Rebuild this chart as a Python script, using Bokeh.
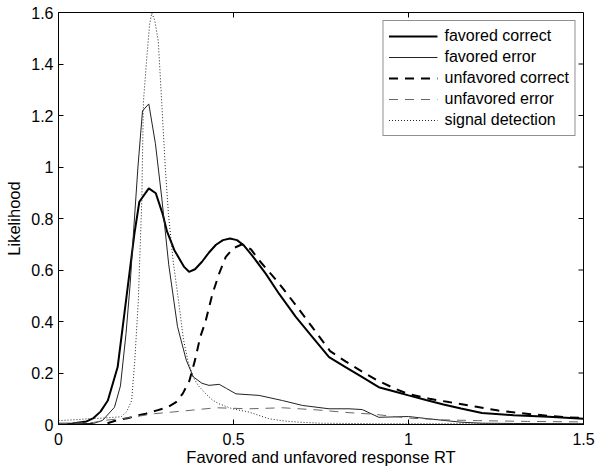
from bokeh.plotting import figure
from bokeh.models import Range1d, FixedTicker, Legend, LegendItem
from bokeh.embed import file_html
from bokeh.resources import INLINE

# ---- data ----
fc_x = [0, 0.04, 0.08, 0.10, 0.12, 0.141, 0.169, 0.193, 0.217, 0.231, 0.258, 0.278, 0.297, 0.31,
        0.331, 0.359, 0.373, 0.39, 0.41, 0.43, 0.45, 0.47, 0.49, 0.51, 0.53, 0.554, 0.592, 0.63,
        0.678, 0.725, 0.773, 0.82, 0.868, 0.915, 0.96, 1.0, 1.05, 1.1, 1.15, 1.21, 1.3, 1.4, 1.5]
fc_y = [0.003, 0.004, 0.012, 0.025, 0.05, 0.093, 0.223, 0.482, 0.742, 0.865, 0.917, 0.898, 0.82, 0.75,
        0.677, 0.612, 0.593, 0.603, 0.632, 0.668, 0.698, 0.716, 0.722, 0.716, 0.695, 0.655, 0.586, 0.508,
        0.418, 0.34, 0.262, 0.223, 0.184, 0.145, 0.128, 0.113, 0.095, 0.078, 0.062, 0.045, 0.036, 0.03,
        0.022]

fe_x = [0, 0.1, 0.126, 0.16, 0.177, 0.193, 0.205, 0.215, 0.227, 0.24, 0.258, 0.277, 0.295, 0.315,
        0.34, 0.365, 0.385, 0.41, 0.43, 0.459, 0.48, 0.507, 0.573, 0.64, 0.697, 0.773, 0.83, 0.868,
        0.915, 1.0, 1.058, 1.15, 1.21, 1.3, 1.5]
fe_y = [0.003, 0.004, 0.016, 0.067, 0.15, 0.354, 0.55, 0.76, 1.0, 1.218, 1.245, 1.09, 0.88, 0.62,
        0.38, 0.25, 0.185, 0.16, 0.152, 0.156, 0.14, 0.119, 0.113, 0.093, 0.074, 0.061, 0.061, 0.058,
        0.028, 0.031, 0.022, 0.009, 0.005, 0.004, 0.003]

uc_x = [0.14, 0.165, 0.2, 0.226, 0.25, 0.279, 0.31, 0.336, 0.355, 0.374, 0.39, 0.405, 0.42, 0.44,
        0.46, 0.478, 0.5, 0.525, 0.55, 0.573, 0.63, 0.68, 0.725, 0.776, 0.82, 0.868, 0.91, 0.96, 1.0,
        1.06, 1.115, 1.19, 1.257, 1.35, 1.447, 1.5]
uc_y = [0.005, 0.016, 0.025, 0.035, 0.042, 0.054, 0.066, 0.087, 0.12, 0.17, 0.25, 0.34, 0.40, 0.508,
        0.59, 0.651, 0.685, 0.70, 0.68, 0.638, 0.548, 0.46, 0.378, 0.285, 0.245, 0.205, 0.172, 0.14,
        0.118, 0.1, 0.087, 0.07, 0.054, 0.04, 0.028, 0.025]

ue_x = [0, 0.1, 0.131, 0.2, 0.274, 0.354, 0.45, 0.545, 0.64, 0.735, 0.83, 0.9, 1.0, 1.1, 1.2,
        1.34, 1.5]
ue_y = [0.003, 0.008, 0.016, 0.026, 0.042, 0.052, 0.065, 0.061, 0.065, 0.057, 0.046, 0.04, 0.025,
        0.018, 0.015, 0.012, 0.01]

sd_x = [0, 0.04, 0.083, 0.13, 0.179, 0.195, 0.209, 0.218, 0.228, 0.238, 0.2425, 0.252, 0.26, 0.2665,
        0.275, 0.285, 0.295, 0.305, 0.314, 0.328, 0.343, 0.357, 0.371, 0.385, 0.40, 0.421, 0.44,
        0.459, 0.497, 0.545, 0.602, 0.65, 0.687, 0.75, 0.9, 1.2, 1.5]
sd_y = [0.015, 0.018, 0.022, 0.025, 0.03, 0.05, 0.093, 0.25, 0.48, 0.87, 1.25, 1.42, 1.55, 1.598,
        1.57, 1.49, 1.25, 1.0, 0.82, 0.63, 0.48, 0.33, 0.24, 0.184, 0.15, 0.119, 0.095,
        0.08, 0.061, 0.048, 0.022, 0.013, 0.009, 0.005, 0.003, 0.003, 0.003]

series_labels = ["favored correct", "favored error", "unfavored correct", "unfavored error",
                 "signal detection"]

x_ticks = [0, 0.5, 1, 1.5]
x_tick_labels = ["0", "0.5", "1", "1.5"]
y_ticks = [0, 0.2, 0.4, 0.6, 0.8, 1, 1.2, 1.4, 1.6]
y_tick_labels = ["0", "0.2", "0.4", "0.6", "0.8", "1", "1.2", "1.4", "1.6"]

X_MAX = 1.5
Y_MAX = 1.6
FONT = "Liberation Sans"

p = figure(width=600, height=474, output_backend="svg", toolbar_location=None,
           x_range=Range1d(0, X_MAX), y_range=Range1d(0, Y_MAX),
           min_border_left=58, min_border_right=17, min_border_top=12, min_border_bottom=50)
p.background_fill_color = "white"
p.border_fill_color = "white"
p.outline_line_color = "black"
p.outline_line_width = 1
p.grid.visible = False

def style_axis(ax, ticks, labels):
    ax.ticker = FixedTicker(ticks=ticks)
    ax.major_label_overrides = dict(zip(ticks, labels))
    ax.major_tick_in = 5
    ax.major_tick_out = 0
    ax.minor_tick_in = 0
    ax.minor_tick_out = 0
    ax.axis_line_color = "black"
    ax.major_tick_line_color = "black"
    ax.major_label_text_font = FONT
    ax.major_label_text_color = "black"
    ax.major_label_text_font_size = "16px"
    ax.axis_label_text_font = FONT
    ax.axis_label_text_font_size = "16.5px"
    ax.axis_label_text_font_style = "normal"
    ax.axis_label_text_color = "black"

style_axis(p.xaxis[0], x_ticks, x_tick_labels)
style_axis(p.yaxis[0], y_ticks, y_tick_labels)
p.xaxis[0].major_label_standoff = 8
p.yaxis[0].major_label_standoff = 5
p.xaxis[0].axis_label = "Favored and unfavored response RT"
p.yaxis[0].axis_label = "Likelihood"
p.xaxis[0].axis_label_standoff = 0
p.yaxis[0].axis_label_standoff = 5

# inward ticks on the top and right edges of the box (MATLAB style)
tick_dx = X_MAX * 5 / 525.0
tick_dy = Y_MAX * 5 / 412.0
p.segment(x0=x_ticks, y0=[Y_MAX] * len(x_ticks), x1=x_ticks, y1=[Y_MAX - tick_dy] * len(x_ticks),
          line_color="black", line_width=1)
p.segment(x0=[X_MAX] * len(y_ticks), y0=y_ticks, x1=[X_MAX - tick_dx] * len(y_ticks), y1=y_ticks,
          line_color="black", line_width=1)

r_fc = p.line(fc_x, fc_y, line_color="black", line_width=2)
r_fe = p.line(fe_x, fe_y, line_color="#222222", line_width=1)
r_uc = p.line(uc_x, uc_y, line_color="black", line_width=2, line_dash="9 7")
r_ue = p.line(ue_x, ue_y, line_color="#666666", line_width=1, line_dash="9 7")
r_sd = p.line(sd_x, sd_y, line_color="#222222", line_width=1, line_dash="1 2")

legend = Legend(items=[LegendItem(label=lab, renderers=[r])
                       for lab, r in zip(series_labels, [r_fc, r_fe, r_uc, r_ue, r_sd])],
                location="top_right")
legend.margin = 8
legend.padding = 5
legend.spacing = 1
legend.glyph_width = 49
legend.glyph_height = 20
legend.label_height = 20
legend.label_standoff = 7
legend.label_text_font = FONT
legend.label_text_font_size = "16px"
legend.label_text_color = "black"
legend.border_line_color = "#222222"
legend.border_line_width = 1
legend.background_fill_color = "white"
legend.background_fill_alpha = 1
p.add_layout(legend, "center")

open("out.html", "w").write(file_html(p, INLINE))
